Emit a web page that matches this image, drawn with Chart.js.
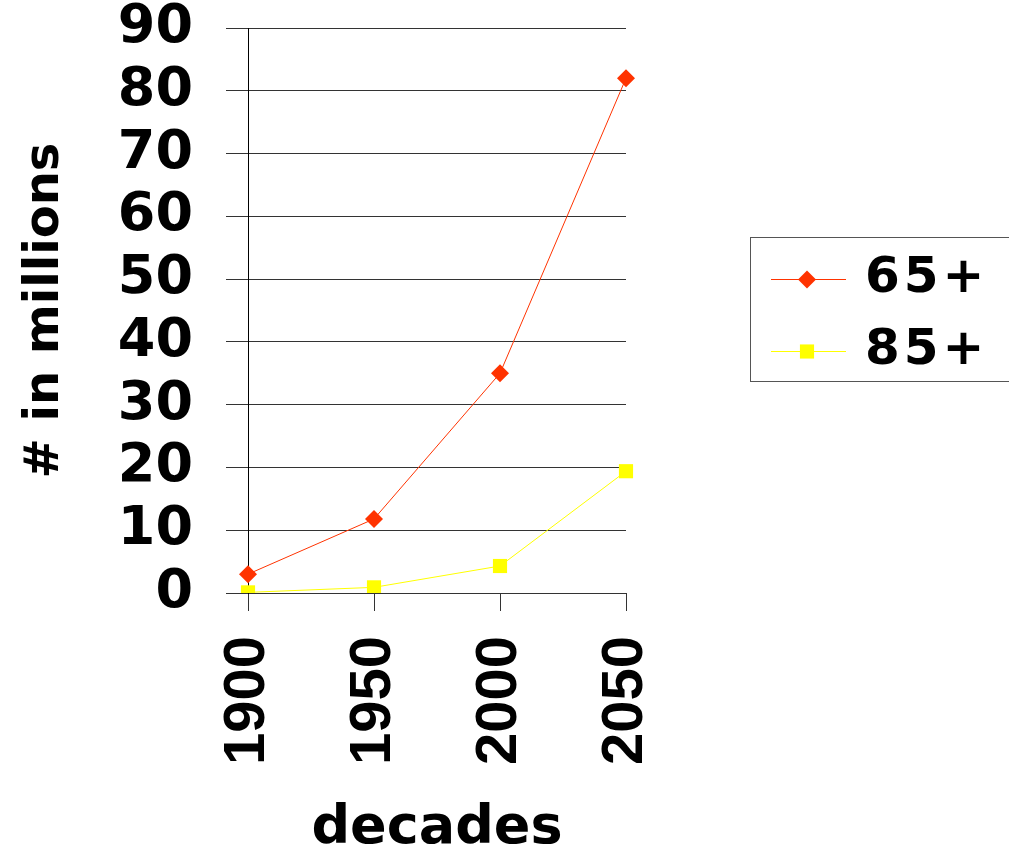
<!DOCTYPE html>
<html><head><meta charset="utf-8">
<script src="https://cdn.jsdelivr.net/npm/chart.js@4/dist/chart.umd.min.js"></script>
<style>html,body{margin:0;padding:0;background:#fff;overflow:hidden}#wrap{width:1009px;height:844px}</style>
</head><body><div id="wrap"><canvas id="c" width="1009" height="844"></canvas></div>
<script>
const decades = ['1900', '1950', '2000', '2050'];
const age65 = [3, 11.8, 35, 82];
const age85 = [0.1, 0.9, 4.3, 19.4];
const seriesNames = ['65+', '85+'];
const yMin = 0, yMax = 90, yStep = 10;

const boxLegend = {
  id: 'boxLegend',
  afterDraw(chart) {
    const ctx = chart.ctx;
    ctx.save();
    ctx.strokeStyle = '#555';
    ctx.lineWidth = 1;
    ctx.strokeRect(750.5, 237.5, 275, 144);
    chart.data.datasets.forEach((ds, i) => {
      const y = 279 + i * 72;
      ctx.strokeStyle = ds.borderColor;
      ctx.lineWidth = 1;
      ctx.beginPath(); ctx.moveTo(771, y + 0.5); ctx.lineTo(846, y + 0.5); ctx.stroke();
      ctx.fillStyle = ds.pointBackgroundColor;
      Chart.helpers.drawPoint(ctx, {pointStyle: ds.pointStyle, radius: ds.pointRadius, borderWidth: 0, rotation: 0}, 807, y + 0.5);
      ctx.fillStyle = '#000';
      ctx.font = 'bold 50px "DejaVu Sans"';
      if ('letterSpacing' in ctx) ctx.letterSpacing = '4px';
      ctx.textBaseline = 'middle';
      ctx.textAlign = 'left';
      ctx.fillText(ds.label, 865, y);
    });
    ctx.restore();
  }
};

new Chart(document.getElementById('c'), {
  type: 'line',
  data: {
    labels: decades,
    datasets: [
      {label: seriesNames[0], data: age65, borderColor: '#ff3300', backgroundColor: '#ff3300',
       pointBackgroundColor: '#ff3300', pointBorderWidth: 0, pointStyle: 'rectRot', pointRadius: 9,
       borderWidth: 1, tension: 0, fill: false},
      {label: seriesNames[1], data: age85, borderColor: '#ffff00', backgroundColor: '#ffff00',
       pointBackgroundColor: '#ffff00', pointBorderWidth: 0, pointStyle: 'rect', pointRadius: 10,
       borderWidth: 1, tension: 0, fill: false}
    ]
  },
  options: {
    responsive: false,
    animation: false,
    devicePixelRatio: 1,
    layout: {padding: {top: 28, right: 383, left: 0, bottom: 0}},
    plugins: {legend: {display: false}, tooltip: {enabled: false}},
    scales: {
      x: {
        type: 'category',
        offset: false,
        afterFit(s) { s.height = 251; s.paddingLeft = 0; s.paddingRight = 0; },
        grid: {drawOnChartArea: false, drawTicks: true, tickLength: 18, color: '#333', lineWidth: 1},
        border: {display: true, color: '#333'},
        ticks: {autoSkip: false, maxRotation: 90, minRotation: 90, padding: 25, color: '#000',
                font: {family: '"Liberation Sans", Arial, sans-serif', weight: 'bold', size: 58, lineHeight: 1}},
        title: {display: true, text: 'decades', color: '#000', padding: {top: 0, bottom: 0},
                font: {family: '"DejaVu Sans", sans-serif', weight: 'bold', size: 54, lineHeight: 0.54}}
      },
      y: {
        min: yMin, max: yMax,
        afterFit(s) { s.width = 248; s.paddingTop = 0; s.paddingBottom = 0; },
        grid: {drawTicks: true, tickLength: 22, color: '#333', lineWidth: 1},
        border: {display: true, color: '#000', width: 1},
        ticks: {stepSize: yStep, padding: 33, color: '#000',
                font: {family: '"DejaVu Sans", sans-serif', weight: 'bold', size: 54, lineHeight: 1}},
        title: {display: true, text: '# in millions', color: '#000', padding: {top: 17, bottom: 0},
                font: {family: '"DejaVu Sans", sans-serif', weight: 'bold', size: 48, lineHeight: 1.2}}
      }
    }
  },
  plugins: [boxLegend]
});
</script>
</body></html>
